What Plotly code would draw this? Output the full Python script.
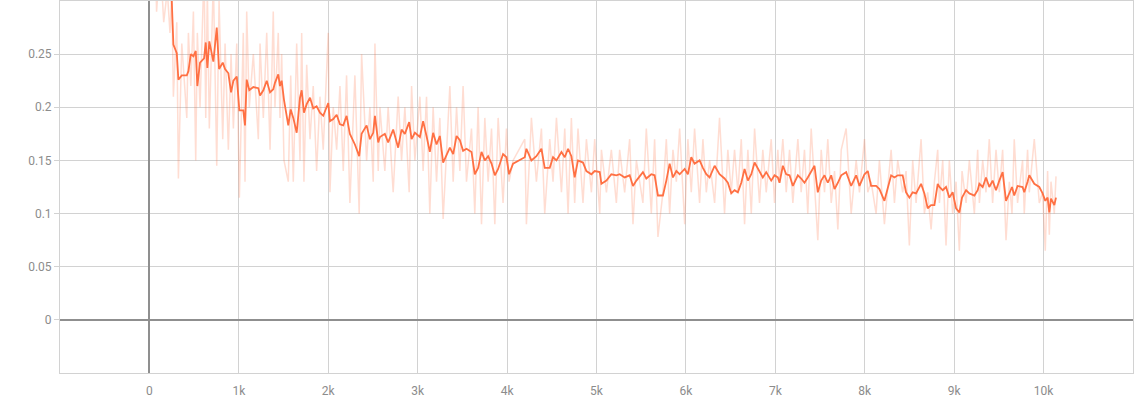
import plotly.graph_objects as go

# ---- data ----
steps = [
    0, 40, 80, 120, 160, 200, 230, 250, 268, 306,
    324, 362, 418, 436, 463, 492, 518, 536, 566, 611,
    630, 648, 670, 715, 753, 779, 820, 846, 883, 913,
    939, 977, 1006, 1050, 1069, 1088, 1117, 1162, 1218, 1237,
    1274, 1312, 1349, 1385, 1404, 1441, 1460, 1479, 1505, 1553,
    1580, 1609, 1647, 1684, 1703, 1728, 1759, 1796, 1832, 1870,
    1907, 1944, 2000, 2019, 2056, 2094, 2131, 2168, 2205, 2242,
    2298, 2346, 2373, 2429, 2466, 2503, 2522, 2559, 2578, 2633,
    2670, 2726, 2782, 2820, 2857, 2905, 2932, 2969, 3025, 3061,
    3099, 3136, 3173, 3211, 3248, 3285, 3360, 3397, 3435, 3472,
    3508, 3546, 3602, 3639, 3676, 3714, 3751, 3788, 3826, 3863,
    3900, 3955, 3993, 4022, 4067, 4198, 4216, 4272, 4328, 4384,
    4421, 4477, 4514, 4552, 4608, 4645, 4682, 4719, 4756, 4793,
    4849, 4887, 4943, 4980, 5036, 5055, 5111, 5166, 5222, 5259,
    5315, 5371, 5408, 5446, 5519, 5557, 5613, 5650, 5687, 5743,
    5781, 5818, 5855, 5893, 5930, 5986, 6022, 6060, 6097, 6153,
    6190, 6228, 6265, 6321, 6376, 6432, 6469, 6507, 6544, 6581,
    6619, 6656, 6693, 6731, 6768, 6823, 6860, 6898, 6954, 6991,
    7028, 7047, 7084, 7122, 7159, 7196, 7252, 7289, 7326, 7363,
    7401, 7438, 7475, 7513, 7550, 7587, 7625, 7662, 7699, 7737,
    7792, 7848, 7904, 7941, 7997, 8034, 8071, 8127, 8164, 8220,
    8295, 8332, 8369, 8424, 8462, 8499, 8536, 8574, 8630, 8667,
    8704, 8742, 8779, 8816, 8835, 8872, 8909, 8946, 8983, 9021,
    9058, 9088, 9133, 9170, 9226, 9263, 9282, 9319, 9356, 9393,
    9430, 9468, 9505, 9542, 9580, 9617, 9647, 9672, 9709, 9765,
    9784, 9821, 9840, 9896, 9952, 9989, 10019, 10045, 10064, 10083,
    10120, 10139,
]

raw_values = [
    0.72, 0.45, 0.29, 0.34, 0.28, 0.31, 0.27, 0.31, 0.21, 0.28,
    0.133, 0.26, 0.19, 0.27, 0.22, 0.29, 0.15, 0.27, 0.20, 0.33,
    0.19, 0.31, 0.18, 0.32, 0.145, 0.30, 0.17, 0.26, 0.16, 0.25,
    0.18, 0.26, 0.115, 0.27, 0.13, 0.29, 0.20, 0.25, 0.17, 0.26,
    0.19, 0.27, 0.16, 0.29, 0.20, 0.27, 0.19, 0.25, 0.15, 0.13,
    0.23, 0.13, 0.26, 0.15, 0.27, 0.13, 0.24, 0.17, 0.22, 0.14,
    0.21, 0.16, 0.27, 0.12, 0.20, 0.16, 0.22, 0.14, 0.23, 0.11,
    0.23, 0.10, 0.25, 0.15, 0.20, 0.13, 0.26, 0.14, 0.20, 0.14,
    0.20, 0.12, 0.21, 0.15, 0.20, 0.12, 0.22, 0.15, 0.21, 0.14,
    0.21, 0.10, 0.20, 0.13, 0.19, 0.095, 0.22, 0.13, 0.20, 0.14,
    0.22, 0.13, 0.18, 0.10, 0.20, 0.09, 0.19, 0.13, 0.18, 0.09,
    0.19, 0.11, 0.18, 0.13, 0.15, 0.17, 0.09, 0.19, 0.13, 0.18,
    0.10, 0.17, 0.13, 0.19, 0.12, 0.18, 0.10, 0.19, 0.11, 0.18,
    0.11, 0.17, 0.12, 0.17, 0.10, 0.16, 0.12, 0.16, 0.11, 0.16,
    0.12, 0.17, 0.09, 0.15, 0.11, 0.18, 0.10, 0.17, 0.078, 0.12,
    0.17, 0.10, 0.16, 0.13, 0.18, 0.09, 0.17, 0.12, 0.18, 0.11,
    0.17, 0.12, 0.15, 0.11, 0.19, 0.10, 0.16, 0.12, 0.16, 0.12,
    0.17, 0.09, 0.16, 0.10, 0.18, 0.11, 0.16, 0.12, 0.17, 0.11,
    0.16, 0.13, 0.17, 0.12, 0.16, 0.11, 0.17, 0.12, 0.16, 0.10,
    0.18, 0.13, 0.075, 0.16, 0.12, 0.17, 0.11, 0.14, 0.085, 0.16,
    0.18, 0.10, 0.15, 0.12, 0.17, 0.12, 0.13, 0.10, 0.15, 0.09,
    0.16, 0.11, 0.15, 0.12, 0.14, 0.07, 0.15, 0.11, 0.17, 0.10,
    0.12, 0.085, 0.13, 0.16, 0.11, 0.15, 0.07, 0.15, 0.10, 0.13,
    0.065, 0.14, 0.11, 0.15, 0.10, 0.16, 0.11, 0.15, 0.12, 0.17,
    0.11, 0.16, 0.12, 0.16, 0.075, 0.13, 0.10, 0.17, 0.11, 0.15,
    0.10, 0.16, 0.12, 0.17, 0.11, 0.12, 0.065, 0.14, 0.08, 0.13,
    0.10, 0.135,
]

smoothed_values = [
    0.69, 0.62, 0.54, 0.47, 0.41, 0.36, 0.33, 0.30, 0.259, 0.251,
    0.226, 0.230, 0.230, 0.234, 0.250, 0.248, 0.253, 0.220, 0.242, 0.246,
    0.261, 0.237, 0.262, 0.243, 0.275, 0.236, 0.242, 0.236, 0.232, 0.214,
    0.225, 0.229, 0.197, 0.197, 0.183, 0.226, 0.216, 0.219, 0.218, 0.211,
    0.216, 0.225, 0.214, 0.217, 0.223, 0.231, 0.220, 0.225, 0.207, 0.183,
    0.198, 0.190, 0.176, 0.209, 0.216, 0.195, 0.203, 0.209, 0.199, 0.201,
    0.195, 0.192, 0.204, 0.187, 0.189, 0.193, 0.184, 0.183, 0.192, 0.175,
    0.165, 0.154, 0.175, 0.183, 0.170, 0.176, 0.192, 0.167, 0.172, 0.175,
    0.167, 0.179, 0.162, 0.179, 0.175, 0.186, 0.170, 0.176, 0.172, 0.187,
    0.173, 0.158, 0.176, 0.165, 0.173, 0.148, 0.162, 0.156, 0.173, 0.169,
    0.159, 0.161, 0.158, 0.137, 0.143, 0.158, 0.150, 0.154, 0.147, 0.136,
    0.142, 0.156, 0.153, 0.137, 0.147, 0.153, 0.161, 0.150, 0.154, 0.161,
    0.143, 0.143, 0.153, 0.150, 0.158, 0.153, 0.161, 0.154, 0.134, 0.150,
    0.148, 0.140, 0.137, 0.140, 0.139, 0.128, 0.131, 0.137, 0.136, 0.137,
    0.134, 0.136, 0.126, 0.131, 0.139, 0.133, 0.137, 0.136, 0.117, 0.117,
    0.131, 0.147, 0.134, 0.140, 0.137, 0.142, 0.137, 0.153, 0.147, 0.150,
    0.143, 0.137, 0.134, 0.145, 0.137, 0.133, 0.129, 0.119, 0.122, 0.120,
    0.129, 0.142, 0.131, 0.137, 0.148, 0.140, 0.134, 0.139, 0.131, 0.136,
    0.134, 0.129, 0.145, 0.137, 0.136, 0.126, 0.136, 0.133, 0.129, 0.134,
    0.140, 0.145, 0.120, 0.131, 0.136, 0.129, 0.136, 0.123, 0.129, 0.136,
    0.139, 0.126, 0.136, 0.126, 0.137, 0.140, 0.126, 0.126, 0.123, 0.112,
    0.136, 0.134, 0.136, 0.136, 0.120, 0.115, 0.120, 0.119, 0.128, 0.119,
    0.105, 0.108, 0.108, 0.128, 0.125, 0.122, 0.125, 0.115, 0.120, 0.105,
    0.101, 0.115, 0.122, 0.119, 0.117, 0.122, 0.128, 0.125, 0.134, 0.125,
    0.131, 0.122, 0.131, 0.139, 0.112, 0.119, 0.125, 0.117, 0.126, 0.125,
    0.120, 0.130, 0.136, 0.128, 0.125, 0.119, 0.112, 0.115, 0.101, 0.114,
    0.108, 0.115,
]

x_tick_values = [0, 1000, 2000, 3000, 4000, 5000, 6000, 7000, 8000, 9000, 10000]
x_tick_labels = ["0", "1k", "2k", "3k", "4k", "5k", "6k", "7k", "8k", "9k", "10k"]
y_tick_values = [0, 0.05, 0.1, 0.15, 0.2, 0.25]
y_tick_labels = ["0", "0.05", "0.1", "0.15", "0.2", "0.25"]

# ---- style ----
ORANGE = "#ff7043"
GRID = "#d2d2d2"
ZERO = "#8f8f8f"
FONT = dict(family="Roboto, sans-serif", size=12, color="#8c8c8c")

fig = go.Figure()
fig.add_trace(go.Scatter(
    x=steps, y=raw_values, mode="lines",
    line=dict(color=ORANGE, width=1.5), opacity=0.23,
    hoverinfo="skip", showlegend=False,
))
fig.add_trace(go.Scatter(
    x=steps, y=smoothed_values, mode="lines",
    line=dict(color=ORANGE, width=1.8),
    hoverinfo="skip", showlegend=False,
))

fig.update_layout(
    width=1134, height=400,
    margin=dict(l=60, r=1, t=1, b=27),
    paper_bgcolor="white", plot_bgcolor="white",
    font=FONT,
    showlegend=False,
)
fig.update_xaxes(
    range=[-1000, 11000],
    tickvals=x_tick_values, ticktext=x_tick_labels,
    showgrid=True, gridcolor=GRID, gridwidth=1,
    zeroline=True, zerolinecolor=ZERO, zerolinewidth=1.5,
    showline=True, linecolor=GRID, linewidth=1, mirror=True,
    ticks="", tickfont=FONT, ticklabelstandoff=7,
)
fig.update_yaxes(
    range=[-0.05, 0.3],
    tickvals=y_tick_values, ticktext=y_tick_labels,
    showgrid=True, gridcolor=GRID, gridwidth=1,
    zeroline=True, zerolinecolor=ZERO, zerolinewidth=1.5,
    showline=True, linecolor=GRID, linewidth=1, mirror=True,
    ticks="outside", ticklen=5, tickcolor=GRID, tickfont=FONT,
)

fig.write_html(
    "out.html",
    config={"displayModeBar": False},
    post_script="document.body.style.margin='0';",
)
